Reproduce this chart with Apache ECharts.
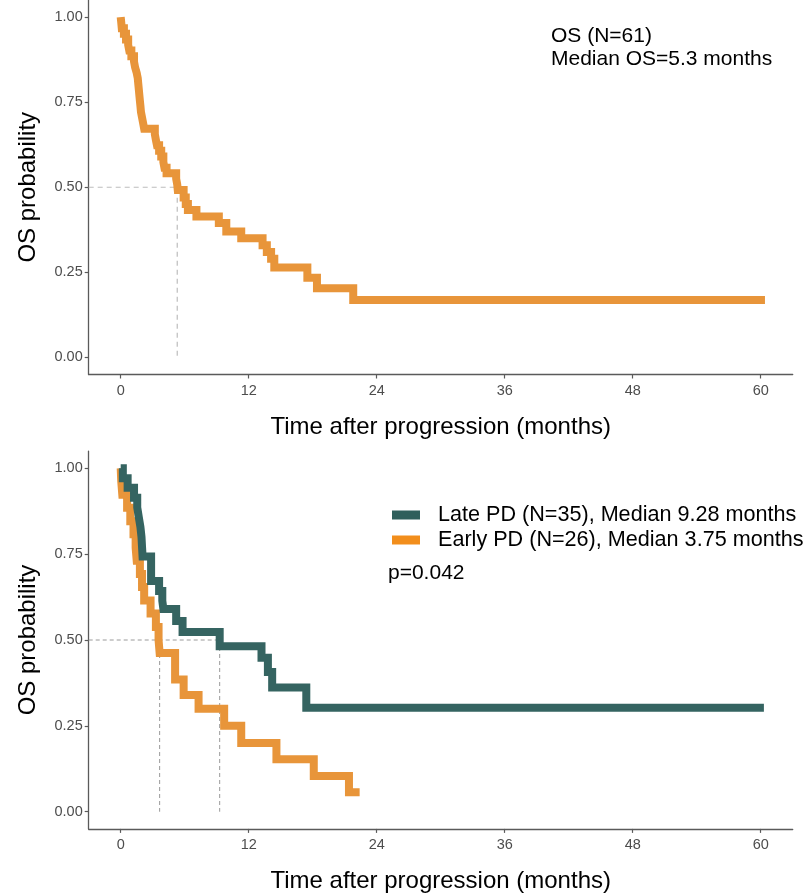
<!DOCTYPE html>
<html>
<head>
<meta charset="utf-8">
<script src="https://cdn.jsdelivr.net/npm/echarts@6/dist/echarts.min.js"></script>
<style>
html,body{margin:0;padding:0;background:#fff;}
#chart{width:805px;height:896px;}
</style>
</head>
<body>
<div id="chart"></div>
<script>
// ---------- data ----------
var xTicks = [0, 12, 24, 36, 48, 60];
var yTicks = [0, 0.25, 0.5, 0.75, 1];

// Overall OS (top panel): [months, survival probability]
var osAll = [
  [0,1.0],[0.05,0.984],[0.1,0.967],[0.3,0.951],[0.5,0.934],[0.7,0.918],[0.8,0.902],
  [1.0,0.885],[1.25,0.869],[1.35,0.852],[1.5,0.836],[1.6,0.820],[1.65,0.803],[1.7,0.787],
  [1.75,0.770],[1.8,0.754],[1.85,0.738],[1.9,0.721],[2.0,0.705],[2.1,0.689],[2.2,0.672],
  [3.2,0.656],[3.3,0.639],[3.4,0.623],[3.6,0.607],[3.8,0.590],[4.0,0.574],[4.1,0.557],
  [4.3,0.541],[5.2,0.525],[5.3,0.508],[5.35,0.492],[5.9,0.470],[6.1,0.451],[6.3,0.433],
  [7.1,0.414],[9.2,0.395],[9.9,0.370],[11.3,0.350],[13.3,0.330],[13.7,0.310],[14.1,0.290],
  [14.4,0.264],[17.5,0.234],[18.4,0.203],[21.8,0.169],[60.4,0.169]
];
// Late PD (bottom panel)
var latePD = [
  [0,1.0],[0.2,0.971],[0.65,0.943],[1.25,0.914],[1.55,0.886],[1.7,0.857],[1.85,0.829],
  [1.95,0.800],[2.0,0.771],[2.05,0.743],[2.85,0.672],[3.6,0.643],[3.9,0.614],[4.0,0.590],
  [5.2,0.555],[5.8,0.523],[9.28,0.482],[13.2,0.448],[13.8,0.407],[14.2,0.362],
  [17.4,0.303],[60.3,0.303]
];
// Early PD (bottom panel)
var earlyPD = [
  [0,1.0],[0.05,0.962],[0.15,0.923],[0.6,0.885],[0.9,0.846],[1.2,0.808],[1.4,0.769],
  [1.5,0.731],[1.8,0.692],[2.0,0.654],[2.2,0.615],[2.8,0.577],[3.3,0.538],[3.55,0.5],
  [3.65,0.462],[5.1,0.385],[5.9,0.340],[7.3,0.300],[9.7,0.250],[11.3,0.200],[14.6,0.153],
  [18.1,0.104],[21.4,0.057],[22.4,0.057]
];
var medianAll = 5.3;
var medianLate = 9.28;
var medianEarly = 3.65;

var seriesNames = ['Late PD (N=35), Median 9.28 months', 'Early PD (N=26), Median 3.75 months'];
var topNote = ['OS (N=61)', 'Median OS=5.3 months'];
var pText = 'p=0.042';

// ---------- styling ----------
var ORANGE = '#E8953A', TEAL = '#356461';
var AX = '#5a5a5a', TXT = '#4d4d4d';
var XMIN = -3, XMAX = 63, YMIN = -0.05, YMAX = 1.05;
var FONT = 'Liberation Sans, Arial';

function xAxisDef(gi){
  return {
    type:'value', gridIndex:gi, min:XMIN, max:XMAX,
    name:'Time after progression (months)', nameLocation:'middle', nameGap:40.5,
    nameTextStyle:{fontFamily:FONT, fontSize:24, color:'#000'},
    axisLine:{show:true, onZero:false, lineStyle:{color:AX, width:1.3}},
    axisTick:{show:true, length:4, customValues:xTicks, lineStyle:{color:AX, width:1.2}},
    axisLabel:{customValues:xTicks, fontFamily:FONT, fontSize:14.5, color:TXT, margin:9},
    splitLine:{show:false}
  };
}
function yAxisDef(gi){
  return {
    type:'value', gridIndex:gi, min:YMIN, max:YMAX,
    name:'OS probability', nameLocation:'middle', nameGap:48.7, nameRotate:90,
    nameTextStyle:{fontFamily:FONT, fontSize:24, color:'#000'},
    axisLine:{show:true, onZero:false, lineStyle:{color:AX, width:1.3}},
    axisTick:{show:true, length:4, customValues:yTicks, lineStyle:{color:AX, width:1.2}},
    axisLabel:{customValues:yTicks, formatter:function(v){return v.toFixed(2);},
      fontFamily:FONT, fontSize:14.5, color:TXT, margin:6},
    splitLine:{show:false}
  };
}
function kmSeries(name, data, color, gi){
  return {
    name:name, type:'line', xAxisIndex:gi, yAxisIndex:gi, data:data, step:'end',
    showSymbol:false, symbol:'none', z:3,
    lineStyle:{color:color, width:8, join:'miter', cap:'butt'},
    itemStyle:{color:color}
  };
}
function dashSeries(data, gi, color, width, dash){
  return {
    type:'line', xAxisIndex:gi, yAxisIndex:gi, data:data, showSymbol:false, symbol:'none',
    z:2, silent:true, lineStyle:{color:color, width:width, type:dash}
  };
}

var chart = echarts.init(document.getElementById('chart'), null, {renderer:'canvas'});
chart.setOption({
  animation:false,
  backgroundColor:'#fff',
  grid:[
    {left:88.7, width:704, top:-3.9, height:378.4},
    {left:88.7, width:704, top:451.1, height:377.8}
  ],
  xAxis:[xAxisDef(0), xAxisDef(1)],
  yAxis:[yAxisDef(0), yAxisDef(1)],
  legend:{
    left:392, top:502.5, padding:0, orient:'vertical', itemGap:0, itemWidth:28, itemHeight:9, icon:'rect',
    textStyle:{fontFamily:FONT, fontSize:21.6, lineHeight:25, color:'#000', padding:[0,0,0,13]},
    data:[
      {name:seriesNames[0], itemStyle:{color:'#2F5F5C'}},
      {name:seriesNames[1], itemStyle:{color:'#F28E1C'}}
    ]
  },
  graphic:[
    {type:'text', left:551, top:26, style:{text:topNote[0], font:'21px "Liberation Sans", Arial', fill:'#000'}},
    {type:'text', left:551, top:48.5, style:{text:topNote[1], font:'21px "Liberation Sans", Arial', fill:'#000'}},
    {type:'text', left:388, top:563, style:{text:pText, font:'21px "Liberation Sans", Arial', fill:'#000'}}
  ],
  series:[
    dashSeries([[XMIN,0.5],[medianAll,0.5],[medianAll,0]], 0, '#bdbdbd', 1.2, [5,4]),
    kmSeries('OS', osAll, ORANGE, 0),
    dashSeries([[XMIN,0.5],[medianLate,0.5]], 1, '#9a9a9a', 1, [4,3]),
    dashSeries([[medianEarly,0.5],[medianEarly,0]], 1, '#9a9a9a', 1, [4,3]),
    dashSeries([[medianLate,0.5],[medianLate,0]], 1, '#9a9a9a', 1, [4,3]),
    kmSeries(seriesNames[1], earlyPD, ORANGE, 1),
    kmSeries(seriesNames[0], latePD, TEAL, 1)
  ]
});
</script>
</body>
</html>
